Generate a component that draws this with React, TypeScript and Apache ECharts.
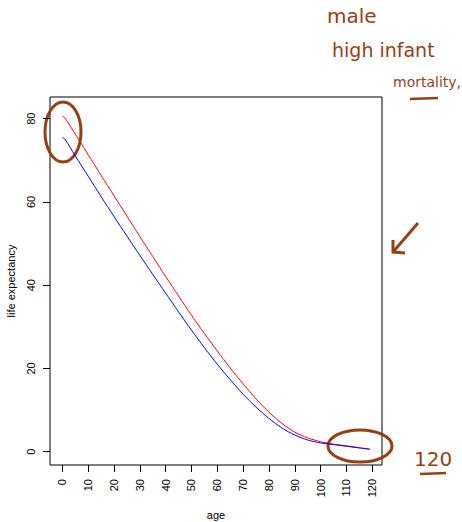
import React, { useEffect, useRef } from "react";
import * as echarts from "echarts";

const ages = [0, 1, 5, 10, 15, 20, 25, 30, 35, 40, 45, 50, 55, 60, 65, 70, 75, 80, 85, 90, 95, 100, 105, 110, 115, 119];
const female = [80.6, 80.2, 76.3, 71.4, 66.4, 61.5, 56.6, 51.7, 46.9, 42.1, 37.4, 32.8, 28.4, 24.2, 20.1, 16.3, 12.7, 9.5, 6.8, 4.7, 3.3, 2.4, 1.8, 1.4, 0.95, 0.6];
const male = [75.4, 75.1, 71.1, 66.2, 61.3, 56.5, 51.8, 47.2, 42.6, 38.1, 33.6, 29.2, 25.0, 21.0, 17.3, 13.8, 10.7, 8.0, 5.7, 4.0, 2.8, 2.1, 1.7, 1.3, 0.9, 0.6];
const xTicks = [0, 10, 20, 30, 40, 50, 60, 70, 80, 90, 100, 110, 120];
const yTicks = [0, 20, 40, 60, 80];

const BROWN = "#973f14";
const FONT = "Liberation Sans, Arial, Helvetica, sans-serif";

export default function App() {
  const ref = useRef<HTMLDivElement>(null);
  useEffect(() => {
    document.body.style.margin = "0";
    const chart = echarts.init(ref.current!, null, { renderer: "svg" });
    const pair = (xs: number[], ys: number[]) => xs.map((x, i) => [x, ys[i]]);
    chart.setOption({
      animation: false,
      backgroundColor: "#ffffff",
      grid: {
        left: 50, top: 97, width: 332, height: 368,
        containLabel: false, outerBoundsMode: "none",
        show: true, borderColor: "#000", borderWidth: 1, backgroundColor: "transparent",
      },
      xAxis: {
        type: "value",
        min: -4.76,
        max: 123.76,
        name: "age",
        nameLocation: "middle",
        nameGap: 44,
        nameTextStyle: { fontFamily: FONT, fontSize: 11, color: "#000" },
        axisLine: { show: false, onZero: false },
        splitLine: { show: false },
        axisTick: { show: true, inside: false, length: 7, lineStyle: { color: "#000" }, customValues: xTicks },
        axisLabel: { rotate: 90, margin: 14, fontFamily: FONT, fontSize: 11, color: "#000", customValues: xTicks },
      },
      yAxis: {
        type: "value",
        min: -3.2,
        max: 85.2,
        name: "life expectancy",
        nameLocation: "middle",
        nameGap: 34,
        nameTextStyle: { fontFamily: FONT, fontSize: 11, color: "#000" },
        axisLine: { show: false, onZero: false },
        splitLine: { show: false },
        axisTick: { show: true, inside: false, length: 7, lineStyle: { color: "#000" }, customValues: yTicks },
        axisLabel: { rotate: 90, margin: 14, fontFamily: FONT, fontSize: 11, color: "#000", customValues: yTicks },
      },
      series: [
        { type: "line", data: pair(ages, female), symbol: "none", smooth: 0.3, lineStyle: { color: "#ff0000", width: 1 } },
        { type: "line", data: pair(ages, male), symbol: "none", smooth: 0.3, lineStyle: { color: "#0000ff", width: 1 } },
      ],
      graphic: [
        { type: "text", left: 327, top: 6, style: { text: "male", font: "20px DejaVu Sans", fill: BROWN } },
        { type: "text", left: 332, top: 40, style: { text: "high infant", font: "19px DejaVu Sans", fill: BROWN } },
        { type: "text", left: 393, top: 75, style: { text: "mortality,", font: "14px DejaVu Sans", fill: BROWN } },
        { type: "line", shape: { x1: 410, y1: 99, x2: 438, y2: 98 }, style: { stroke: BROWN, lineWidth: 2.5 } },
        { type: "ellipse", shape: { cx: 63, cy: 132, rx: 18, ry: 30 }, style: { fill: "none", stroke: BROWN, lineWidth: 3 } },
        { type: "ellipse", shape: { cx: 360, cy: 446, rx: 32, ry: 16 }, style: { fill: "none", stroke: BROWN, lineWidth: 3 } },
        { type: "polyline", shape: { points: [[418, 223], [393, 252]] }, style: { stroke: BROWN, lineWidth: 3, fill: "none" } },
        { type: "polyline", shape: { points: [[393, 240], [393, 252], [405, 253]] }, style: { stroke: BROWN, lineWidth: 3, fill: "none" } },
        { type: "text", left: 414, top: 449, style: { text: "120", font: "20px DejaVu Sans", fill: BROWN } },
        { type: "line", shape: { x1: 420, y1: 474, x2: 446, y2: 473 }, style: { stroke: BROWN, lineWidth: 2.5 } },
      ],
    });
    return () => chart.dispose();
  }, []);
  return <div ref={ref} style={{ width: 462, height: 522 }} />;
}
